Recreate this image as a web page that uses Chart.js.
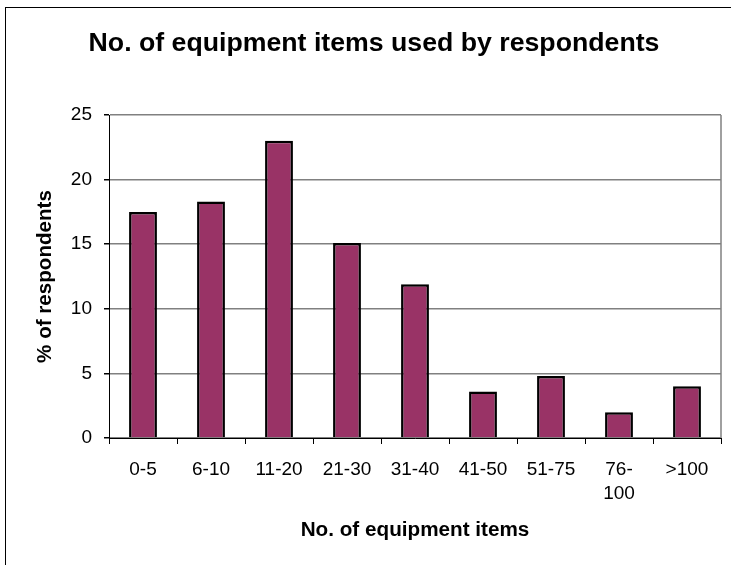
<!DOCTYPE html>
<html>
<head>
<meta charset="utf-8">
<script src="https://cdn.jsdelivr.net/npm/chart.js@4/dist/chart.umd.min.js"></script>
<style>
  body { margin: 0; background: #fff; overflow: hidden; }
  #wrap { position: relative; width: 731px; height: 565px; }
  #frame { position: absolute; left: 5px; top: 7px; width: 800px; height: 600px; border: 1px solid #000; pointer-events: none; }
</style>
</head>
<body>
<div id="wrap">
  <canvas id="barchart" width="731" height="565"></canvas>
  <div id="frame"></div>
</div>
<script>
'use strict';
var chartTitle = 'No. of equipment items used by respondents';
var categories = ['0-5', '6-10', '11-20', '21-30', '31-40', '41-50', '51-75', ['76-', '100'], '>100'];
var percentRespondents = [17.5, 18.3, 23.0, 15.1, 11.9, 3.6, 4.8, 2.0, 4.0];
var yTicks = [0, 5, 10, 15, 20, 25];

var fontFamily = 'Arial, "Liberation Sans", sans-serif';

// gray line down the right side of the plot area
var plotFrame = {
  id: 'plotFrame',
  beforeDatasetsDraw: function(chart) {
    var a = chart.chartArea;
    var ctx = chart.ctx;
    ctx.save();
    ctx.strokeStyle = '#808080';
    ctx.lineWidth = 1.5;
    ctx.beginPath();
    ctx.moveTo(a.right, a.top);
    ctx.lineTo(a.right, a.bottom);
    ctx.stroke();
    ctx.restore();
  }
};

// the title sits centred over the outer frame, not over the canvas
var frameTitle = {
  id: 'frameTitle',
  afterDraw: function(chart) {
    var ctx = chart.ctx;
    ctx.save();
    ctx.fillStyle = '#000';
    ctx.font = 'bold 26.7px ' + fontFamily;
    ctx.textAlign = 'center';
    ctx.textBaseline = 'middle';
    ctx.fillText(chartTitle, 374, 44);
    ctx.restore();
  }
};

function createBar() {
  var ctx = document.getElementById('barchart');
  new Chart(ctx, {
    type: 'bar',
    data: {
      labels: categories,
      datasets: [{
        label: '% of respondents',
        data: percentRespondents,
        backgroundColor: '#993366',
        borderColor: '#000000',
        borderWidth: 2.5,
        barPercentage: 0.41,
        categoryPercentage: 1
      }]
    },
    options: {
      responsive: false,
      animation: false,
      devicePixelRatio: 1,
      layout: { padding: { left: 0, right: 10, top: 115, bottom: 0 } },
      plugins: {
        legend: { display: false },
        tooltip: { enabled: false },
        title: { display: false }
      },
      scales: {
        x: {
          afterFit: function(scale) { scale.height = 127; },
          grid: {
            offset: true,
            drawOnChartArea: false,
            color: '#000',
            tickLength: 6
          },
          border: { color: '#000', width: 1 },
          ticks: {
            color: '#000',
            padding: 14,
            maxRotation: 0,
            autoSkip: false,
            font: { family: fontFamily, size: 19, lineHeight: 1.25 }
          },
          title: {
            display: true,
            text: 'No. of equipment items',
            color: '#000',
            font: { family: fontFamily, size: 20.7, weight: 'bold' },
            padding: { top: 0, bottom: 22 }
          }
        },
        y: {
          min: 0,
          max: 25,
          afterFit: function(scale) { scale.width = 109; },
          afterBuildTicks: function(scale) {
            scale.ticks = yTicks.map(function(v) { return { value: v }; });
          },
          grid: {
            color: '#808080',
            lineWidth: 1.5,
            tickColor: '#000',
            tickLength: 5
          },
          border: { color: '#000', width: 1 },
          ticks: {
            color: '#000',
            padding: 12,
            font: { family: fontFamily, size: 19 }
          },
          title: {
            display: true,
            text: '% of respondents',
            color: '#000',
            font: { family: fontFamily, size: 20.6, weight: 'bold' },
            padding: { top: 33, bottom: 0 }
          }
        }
      }
    },
    plugins: [plotFrame, frameTitle]
  });
}

createBar();
</script>
</body>
</html>
